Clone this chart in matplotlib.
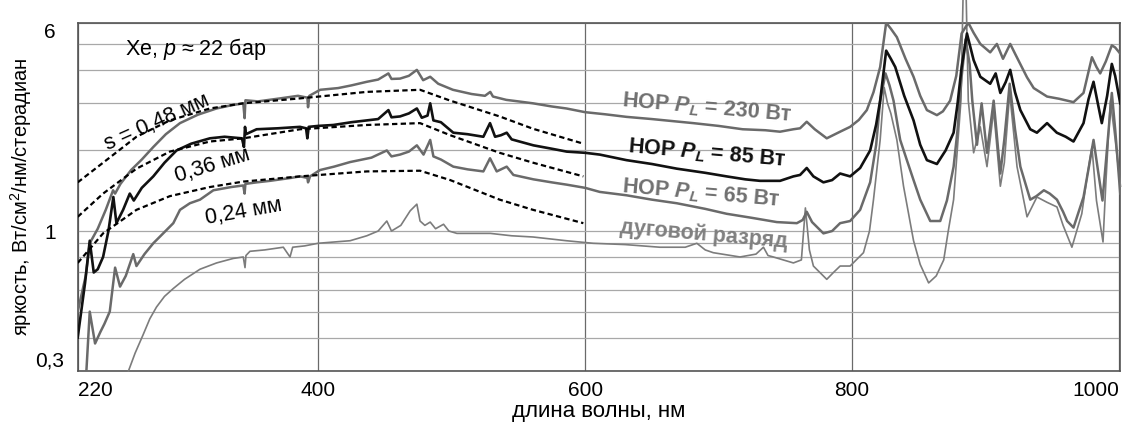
import matplotlib
matplotlib.use("Agg")
import matplotlib.pyplot as plt
from matplotlib.ticker import FixedLocator, NullFormatter

plt.rcParams["font.family"] = ["Liberation Sans", "DejaVu Sans"]
plt.rcParams["mathtext.fontset"] = "custom"
plt.rcParams["mathtext.rm"] = "Liberation Sans"
plt.rcParams["mathtext.it"] = "Liberation Sans:italic"
plt.rcParams["mathtext.bf"] = "Liberation Sans:bold"
plt.rcParams["mathtext.bfit"] = "Liberation Sans:italic:bold"

# HOP, P_L = 230 W
wl_230 = [220, 226, 229, 235, 241, 246.5, 248, 252, 260, 268, 276.6, 286, 296.6, 310, 324, 335, 344,
          345, 345.6, 355, 371.6, 385, 392, 392.5, 393.5, 401.6, 415, 425, 436.5, 445, 452.7, 455,
          461.4, 468, 474, 478.7, 484, 490, 501, 515, 525, 529, 531, 541, 550, 561, 575, 586, 600,
          615, 631, 650, 681, 700, 718, 735, 746, 756, 761, 766, 772, 781, 791, 798.5, 805, 811,
          816, 821, 825.5, 829, 833.5, 840, 846, 851, 856, 863.5, 868, 873.4, 878, 882, 887, 891,
          896, 903.4, 908.4, 913, 918.4, 922, 926, 931, 936, 946, 955, 961, 965.8, 973.3, 979.6,
          983, 985.8, 990, 994.5, 997, 1000.8]
val_230 = [0.5, 0.68, 0.9, 1.02, 1.2, 1.42, 1.38, 1.5, 1.69, 1.85, 2.06, 2.3, 2.53, 2.72, 2.87, 2.95, 3.0,
           2.64, 3.08, 3.05, 3.13, 3.2, 3.15, 2.9, 3.2, 3.37, 3.42, 3.5, 3.61, 3.68, 3.88, 3.7,
           3.71, 3.8, 4.0, 3.66, 3.77, 3.55, 3.37, 3.25, 3.2, 3.31, 3.18, 3.09, 3.05, 3.0, 2.92, 2.87, 2.78,
           2.73, 2.67, 2.62, 2.53, 2.47, 2.4, 2.38, 2.35, 2.4, 2.42, 2.56, 2.4, 2.22, 2.35, 2.45, 2.6, 2.83,
           3.3, 4.1, 6.0, 5.7, 5.3, 4.4, 3.77, 3.2, 2.83, 2.71, 2.8, 3.07, 3.8, 5.47, 6.0, 5.5,
           5.0, 4.65, 5.0, 4.4, 5.0, 4.6, 4.2, 3.75, 3.42, 3.18, 3.12, 3.07, 3.03, 3.28, 4.46,
           4.1, 3.88, 4.3, 4.94, 4.85, 4.6]

# HOP, P_L = 85 W
wl_85 = [220, 225.5, 229, 232, 235, 239, 243, 246.7, 249, 254, 259, 262, 268, 276.6, 285, 294, 305, 319,
         330, 343, 344.5, 345.3, 346, 354, 370, 386.5, 391, 392, 393, 400, 411.5, 425, 436.5, 445,
         452.7, 455, 461.4, 468, 474, 477.7, 482, 484, 486.4, 492, 501.3, 512, 523.8, 528.8, 532.6,
         537, 541.3, 545, 561.3, 575, 586.3, 600, 611, 631, 650, 668.7, 690, 706, 720, 731, 746, 756,
         761, 766, 771, 778.5, 785, 791, 798.5, 806, 813.5, 818, 821, 825.5, 829, 832.3, 839, 846,
         851, 856, 863.5, 870, 876, 879, 882, 886, 891, 896, 903.4, 907.5, 911, 915, 918.4, 922, 926,
         933.4, 938.4, 946, 953.3, 960, 965.8, 973.3, 977, 980.8, 984, 987, 991, 994.5, 997, 1000.8]
val_85 = [0.4, 0.64, 0.92, 0.7, 0.72, 0.8, 1.0, 1.34, 1.07, 1.2, 1.38, 1.3, 1.45, 1.6, 1.8, 2.0, 2.12, 2.22,
          2.25, 2.22, 2.06, 2.45, 2.3, 2.4, 2.42, 2.45, 2.42, 2.22, 2.45, 2.47, 2.49, 2.55, 2.59, 2.62,
          2.83, 2.66, 2.68, 2.75, 2.87, 2.65, 2.7, 3.0, 2.59, 2.55, 2.33, 2.3, 2.25, 2.53, 2.25,
          2.28, 2.33, 2.2, 2.09, 2.03, 1.98, 1.96, 1.93, 1.84, 1.78, 1.71, 1.65, 1.6, 1.56, 1.54, 1.54, 1.6,
          1.62, 1.72, 1.6, 1.52, 1.55, 1.64, 1.6, 1.72, 2.0, 2.5, 3.07, 4.72, 4.4, 4.1, 3.2, 2.59,
          2.1, 1.84, 1.78, 2.0, 2.33, 3.0, 4.1, 5.47, 4.35, 3.77, 3.55, 3.88, 3.28, 3.6, 4.0, 3.3, 2.83,
          2.4, 2.33, 2.53, 2.33, 2.25, 2.16, 2.53, 3.1, 3.61, 3.0, 2.53, 3.2, 4.21, 3.8, 3.0]

# HOP, P_L = 65 W
wl_65 = [226.5, 229, 233, 237, 240, 244, 248, 251.7, 256, 261.6, 264, 270, 276.6, 284, 291.6, 296.6, 304,
         311.6, 321.6, 335, 344, 345, 345.6, 354, 364, 380, 386.5, 392, 392.5, 394, 401.5, 412, 424,
         440, 451.5, 455, 461.4, 468, 474, 479, 484, 486.4, 492, 501.3, 512, 523.8, 528.8, 533.8,
         541.3, 546.3, 561.3, 575, 586.3, 600, 611, 631, 650, 668.7, 690, 706, 725, 743.6, 758.6,
         763, 766, 770, 778.5, 785, 791, 798.5, 806, 813.5, 818, 821, 825, 828, 831, 834, 836, 841,
         846, 851, 858.5, 866, 871, 876, 879, 882, 885, 888, 890, 893.5, 897, 901, 906, 911, 914, 918,
         922, 926, 933.4, 938, 943.6, 948, 953.4, 958, 961, 965.8, 973.3, 977, 980.8, 984, 987.5, 990,
         994.5, 997, 1000.8]
val_65 = [0.3, 0.5, 0.38, 0.42, 0.45, 0.5, 0.73, 0.62, 0.68, 0.82, 0.74, 0.82, 0.9, 0.98, 1.07, 1.2, 1.27,
          1.31, 1.42, 1.46, 1.48, 1.38, 1.5, 1.52, 1.54, 1.58, 1.6, 1.58, 1.52, 1.6, 1.69, 1.74, 1.81,
          1.88, 2.0, 1.9, 1.93, 1.98, 2.09, 1.93, 2.19, 1.9, 1.85, 1.74, 1.7, 1.67, 1.87, 1.67,
          1.74, 1.62, 1.56, 1.52, 1.49, 1.45, 1.4, 1.36, 1.31, 1.27, 1.21, 1.16, 1.12, 1.08, 1.07,
          1.1, 1.18, 1.08, 0.98, 1.0, 1.07, 1.09, 1.2, 1.52, 2.1, 3.07, 3.88, 3.5, 3.07, 2.5, 2.19, 1.84,
          1.55, 1.31, 1.09, 1.09, 1.3, 1.74, 2.4, 3.77, 5.2, 4.2, 3.07, 2.1, 3.0, 1.96, 3.07, 1.64, 2.2, 3.55,
          2.4, 1.74, 1.31, 1.35, 1.42, 1.38, 1.31, 1.18, 1.09, 1.03, 1.34, 1.7, 2.19, 1.7, 1.3, 1.8,
          3.28, 2.4, 1.38]

# arc discharge
wl_arc = [258, 263, 269, 274, 279, 285, 291.6, 300, 311.6, 324, 336.5, 344, 345.3, 346, 349, 360, 374, 379,
          381, 390, 400, 412, 424, 436.5, 445, 451.5, 455, 462, 469, 474, 476.4, 480, 484, 488, 494, 498,
          504, 529, 545, 561, 586, 606, 630, 656, 675, 683.7, 690, 696, 716, 728, 733.6, 737, 741, 756,
          762, 765, 768, 771, 781, 786, 791, 798.5, 808.5, 813, 816, 821, 824, 826.5, 829, 833.5,
          838.5, 846, 851, 857.3, 863, 868.6, 872, 876, 881.5, 883.5, 885, 887, 891, 896, 901, 906, 911,
          914, 918, 923.5, 931, 938.4, 946, 953.4, 958, 964.6, 972, 976, 979.6, 983, 987.9, 990, 993.4,
          997, 1001]
val_arc = [0.3, 0.35, 0.41, 0.47, 0.52, 0.57, 0.61, 0.66, 0.72, 0.76, 0.79, 0.8, 0.73, 0.81, 0.84, 0.85, 0.87, 0.8,
           0.87, 0.88, 0.9, 0.91, 0.92, 0.96, 1.0, 1.09, 1.0, 1.05, 1.19, 1.26, 1.09, 1.05, 1.08, 1.02, 1.06, 1.0,
           0.98, 0.98, 0.96, 0.95, 0.92, 0.9, 0.89, 0.87, 0.87, 0.9, 0.85, 0.83, 0.8, 0.82, 0.87, 0.81, 0.8, 0.76,
           0.78, 1.22, 0.85, 0.74, 0.66, 0.7, 0.74, 0.74, 0.83, 1.0, 1.31, 2.19, 3.44, 3.0, 2.75, 2.19,
           1.47, 0.92, 0.75, 0.64, 0.68, 0.78, 1.0, 1.31, 3.07, 9.5, 9.5, 3.07, 1.96, 2.45, 1.74, 2.83, 1.47,
           1.8, 3.28, 1.74, 1.13, 1.34, 1.28, 1.23, 1.05, 0.87, 1.16, 1.6, 2.06, 1.3, 0.91, 1.5, 3.07,
           2.2, 1.47]

# model curves for slit widths s
wl_model = [220, 239, 264, 289, 319, 344, 386.5, 436.5, 476.4, 499, 536, 561, 598.7]
val_s048 = [1.52, 1.8, 2.25, 2.59, 2.87, 3.0, 3.13, 3.31, 3.37, 3.07, 2.68, 2.41, 2.12]
val_s036 = [1.13, 1.38, 1.71, 1.98, 2.16, 2.22, 2.4, 2.49, 2.53, 2.28, 1.96, 1.8, 1.6]
val_s024 = [0.76, 0.98, 1.2, 1.35, 1.46, 1.53, 1.6, 1.67, 1.68, 1.55, 1.31, 1.2, 1.07]

x_ticks = [220, 400, 600, 800, 1000]
y_ticks = [0.3, 1, 6]
y_tick_labels = ["0,3", "1", "6"]
y_grid_minor = [0.4, 0.5, 0.6, 0.7, 0.8, 0.9, 2, 3, 4, 5]

GRAY = "#6a6a6a"

fig = plt.figure(figsize=(11.23, 4.29), dpi=100)
ax = fig.add_axes([0.0692, 0.1352, 0.9281, 0.8118])
ax.set_yscale("log")

ax.plot(wl_arc, val_arc, color="#7c7c7c", lw=1.2, zorder=3, clip_on=False)
ax.plot(wl_65, val_65, color=GRAY, lw=1.8, zorder=4)
ax.plot(wl_230, val_230, color=GRAY, lw=1.8, zorder=4)
ax.plot(wl_85, val_85, color="#111111", lw=1.9, zorder=5)
for vals in (val_s048, val_s036, val_s024):
    ax.plot(wl_model, vals, color="black", lw=1.6, linestyle=(0, (2.4, 1.5)), zorder=6)

ax.set_xlim(220, 1000.6)
ax.set_ylim(0.3, 6)
ax.set_xticks(x_ticks)
ax.set_yticks(y_ticks)
ax.set_yticklabels(y_tick_labels)
ax.yaxis.set_minor_locator(FixedLocator(y_grid_minor))
ax.yaxis.set_minor_formatter(NullFormatter())
ax.tick_params(axis="both", which="both", length=0)
ax.tick_params(axis="x", labelsize=15, pad=7)
ax.tick_params(axis="y", labelsize=15, pad=20)
for lab in ax.get_yticklabels():
    lab.set_ha("center")
ylabs = ax.get_yticklabels()
ylabs[0].set_va("bottom")
ylabs[-1].set_va("top")
xlabs = ax.get_xticklabels()
xlabs[0].set_ha("left")
xlabs[-1].set_ha("right")

ax.grid(True, axis="y", which="both", color="#a8a8a8", lw=0.9)
ax.grid(True, axis="x", which="major", color="#6a6a6a", lw=0.9)
for sp in ax.spines.values():
    sp.set_color("#555555")
    sp.set_linewidth(1.2)

ax.set_xlabel("длина волны, нм", fontsize=16, labelpad=1)
ax.set_ylabel("яркость, Вт/см$^2$/нм/стерадиан", fontsize=14.5, labelpad=1)

ax.text(255.5, 4.8, "Xe, $p$ ≈ 22 бар", fontsize=15.5, ha="left", va="center")
ax.text(279.5, 2.55, "s = 0,48 мм", fontsize=15.5, rotation=24, ha="center", va="center",
        rotation_mode="anchor", zorder=7)
ax.text(320.6, 1.76, "0,36 мм", fontsize=15.5, rotation=17, ha="center", va="center",
        rotation_mode="anchor", zorder=7)
ax.text(344, 1.18, "0,24 мм", fontsize=15.5, rotation=10, ha="center", va="center",
        rotation_mode="anchor", zorder=7)

label_kw = dict(fontsize=15.5, fontweight="bold", rotation=-5, ha="center", va="center",
                rotation_mode="anchor", zorder=7)
ax.text(691.4, 2.88, r"НОР $\mathbfit{P}_{\mathbfit{L}}$ = 230 Вт", color="#707070", **label_kw)
ax.text(691.4, 1.95, r"НОР $\mathbfit{P}_{\mathbfit{L}}$ = 85 Вт", color="#111111", **label_kw)
ax.text(687, 1.38, r"НОР $\mathbfit{P}_{\mathbfit{L}}$ = 65 Вт", color="#707070", **label_kw)
ax.text(688.5, 0.97, "дуговой разряд", color="#808080", **label_kw)

fig.savefig("out.png", dpi=100)
